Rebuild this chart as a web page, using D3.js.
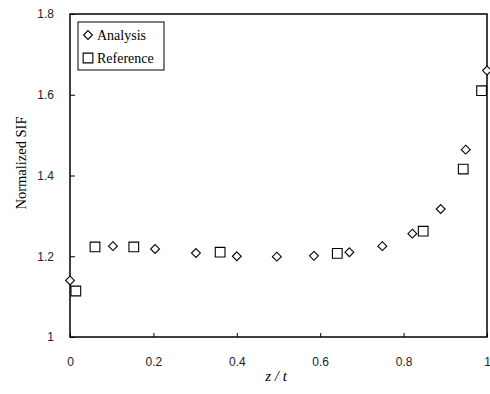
<!DOCTYPE html>
<html>
<head>
<meta charset="utf-8">
<script src="https://cdn.jsdelivr.net/npm/d3@7"></script>
<style>
  body { margin: 0; background: #fff; }
  svg { display: block; }
</style>
</head>
<body>
<div id="chart"></div>
<script>
// Normalized SIF along z/t
const analysisZ = [0.0, 0.103, 0.204, 0.302, 0.40, 0.496, 0.585, 0.67, 0.749, 0.821, 0.889, 0.949, 1.0];
const analysisSIF = [1.14, 1.225, 1.218, 1.208, 1.20, 1.199, 1.201, 1.21, 1.225, 1.256, 1.317, 1.464, 1.66];
const referenceZ = [0.014, 0.06, 0.153, 0.36, 0.641, 0.847, 0.943, 0.987];
const referenceSIF = [1.114, 1.223, 1.223, 1.21, 1.207, 1.262, 1.416, 1.61];
const xTicks = [0, 0.2, 0.4, 0.6, 0.8, 1];
const yTicks = [1, 1.2, 1.4, 1.6, 1.8];
const legendLabels = ["Analysis", "Reference"];

const width = 490, height = 394;
const margin = { top: 14, right: 3, bottom: 57, left: 70 };

const svg = d3.select("#chart").append("svg")
    .attr("width", width)
    .attr("height", height);

const x = d3.scaleLinear().domain([0, 1]).range([margin.left, width - margin.right]);
const y = d3.scaleLinear().domain([1, 1.8]).range([height - margin.bottom, margin.top]);

const tickFont = "'Liberation Sans', Arial, sans-serif";
const serif = "'Liberation Serif', 'Times New Roman', serif";

// frame
svg.append("rect")
    .attr("x", x(0)).attr("y", y(1.8))
    .attr("width", x(1) - x(0)).attr("height", y(1) - y(1.8))
    .attr("fill", "none").attr("stroke", "#000").attr("stroke-width", 1.5);

const xAxis = svg.append("g")
    .attr("transform", "translate(0," + y(1) + ")")
    .call(d3.axisBottom(x).tickValues(xTicks).tickSizeInner(-4).tickSizeOuter(0)
        .tickPadding(20).tickFormat(d => d === 0 || d === 1 ? d3.format("d")(d) : d3.format(".1f")(d)));
xAxis.select(".domain").remove();
xAxis.selectAll("text").attr("font-family", tickFont).attr("font-size", 12).attr("fill", "#222");

const yAxis = svg.append("g")
    .attr("transform", "translate(" + x(0) + ",0)")
    .call(d3.axisLeft(y).tickValues(yTicks).tickSizeInner(-5).tickSizeOuter(0)
        .tickPadding(16).tickFormat(d => d === 1 ? "1" : d3.format(".1f")(d)));
yAxis.select(".domain").remove();
yAxis.selectAll("text").attr("font-family", tickFont).attr("font-size", 12).attr("fill", "#222");

// axis titles
svg.append("text")
    .attr("transform", "translate(26,163) rotate(-90)")
    .attr("text-anchor", "middle")
    .attr("font-family", serif).attr("font-size", 14.5)
    .text("Normalized SIF");

svg.append("text")
    .attr("x", 276).attr("y", 381)
    .attr("text-anchor", "middle")
    .attr("font-family", serif).attr("font-size", 15).attr("font-style", "italic")
    .text("z / t");

const diamond = d3.symbol().type(d3.symbolDiamond2).size(50);
const square = d3.symbol().type(d3.symbolSquare2).size(120);

svg.append("g").selectAll("path")
    .data(analysisZ.map((z, i) => [z, analysisSIF[i]]))
    .join("path")
    .attr("transform", d => "translate(" + x(d[0]) + "," + y(d[1]) + ")")
    .attr("d", diamond)
    .attr("fill", "#fff").attr("stroke", "#000").attr("stroke-width", 1.1);

svg.append("g").selectAll("path")
    .data(referenceZ.map((z, i) => [z, referenceSIF[i]]))
    .join("path")
    .attr("transform", d => "translate(" + x(d[0]) + "," + y(d[1]) + ")")
    .attr("d", square)
    .attr("fill", "#fff").attr("stroke", "#000").attr("stroke-width", 1.1);

// legend
const legend = svg.append("g").attr("transform", "translate(78,22)");
legend.append("rect")
    .attr("width", 86).attr("height", 48)
    .attr("fill", "#fff").attr("stroke", "#000").attr("stroke-width", 1);
legendLabels.forEach((label, i) => {
    const cy = 13 + i * 23;
    legend.append("path")
        .attr("transform", "translate(10," + cy + ")")
        .attr("d", i === 0 ? diamond : square)
        .attr("fill", "#fff").attr("stroke", "#000").attr("stroke-width", 1.1);
    legend.append("text")
        .attr("x", 19).attr("y", cy + 5)
        .attr("font-family", serif).attr("font-size", 14)
        .text(label);
});
</script>
</body>
</html>
